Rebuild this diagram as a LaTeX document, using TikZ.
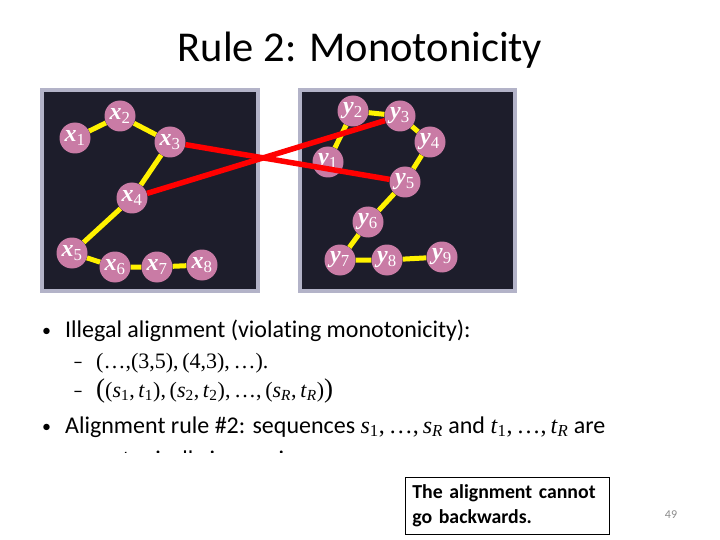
\documentclass[tikz,border=0pt]{standalone}
\usepackage{fontspec}
\setmainfont{Carlito}[Ligatures=NoCommon]
\newfontfamily\mserif{Liberation Serif}
\usetikzlibrary{backgrounds}
\definecolor{paneldark}{HTML}{1D1D2B}
\definecolor{panelborder}{HTML}{B3B3C8}
\definecolor{nodepink}{HTML}{C97BA5}
\definecolor{pagegrey}{HTML}{8C8C8C}
\newcommand\vlab[2]{{\bfseries\itshape #1}\textsubscript{#2}}
\newcommand\mv[2]{\textit{#1}\textsubscript{#2}}
\newcommand\mvR[1]{\textit{#1}\textsubscript{\itshape R}}
\tikzset{
  panel/.style={draw=panelborder, line width=4pt, fill=paneldark},
  vnode/.style={circle, fill=nodepink, minimum size=31pt, inner sep=0pt, text=white, font=\mserif\fontsize{24}{24}\selectfont},
  yedge/.style={draw=yellow, line width=5pt},
  redge/.style={draw=red, line width=5.5pt},
  bodytext/.style={anchor=base west, inner sep=0pt, font=\fontsize{24}{29}\selectfont},
  mathtext/.style={anchor=base west, inner sep=0pt, font=\mserif\fontsize{22}{29}\selectfont},
}
\begin{document}
\begin{tikzpicture}[x=1pt,y=-1pt]
\useasboundingbox (0,0) rectangle (720,540);
% title
\node[anchor=base, inner sep=0pt, font=\fontsize{42.5}{50}\selectfont] (title) at (360,62) {Rule 2: Monotonicity};
% nodes left
\node[vnode] (x1) at (75,138) {\vlab{x}{1}};
\node[vnode] (x2) at (120,116) {\vlab{x}{2}};
\node[vnode] (x3) at (170,142) {\vlab{x}{3}};
\node[vnode] (x4) at (132,198) {\vlab{x}{4}};
\node[vnode] (x5) at (72,253) {\vlab{x}{5}};
\node[vnode] (x6) at (115,267) {\vlab{x}{6}};
\node[vnode] (x7) at (157,267) {\vlab{x}{7}};
\node[vnode] (x8) at (202,265) {\vlab{x}{8}};
% nodes right
\node[vnode] (y1) at (328,162) {\vlab{y}{1}};
\node[vnode] (y2) at (353,111) {\vlab{y}{2}};
\node[vnode] (y3) at (400,116) {\vlab{y}{3}};
\node[vnode] (y4) at (430,142) {\vlab{y}{4}};
\node[vnode] (y5) at (405,182) {\vlab{y}{5}};
\node[vnode] (y6) at (368,222) {\vlab{y}{6}};
\node[vnode] (y7) at (340,260) {\vlab{y}{7}};
\node[vnode] (y8) at (387,260) {\vlab{y}{8}};
\node[vnode] (y9) at (442,257) {\vlab{y}{9}};
\begin{scope}[on background layer]
% panels
\draw[panel] (42,90) rectangle (258,291);
\draw[panel] (300,90) rectangle (515,291);
% yellow edges
\draw[yedge] (x1) -- (x2) (x2) -- (x3) (x3) -- (x4) (x4) -- (x5) (x5) -- (x6) (x6) -- (x7) (x7) -- (x8);
\draw[yedge] (y1) -- (y2) (y2) -- (y3) (y3) -- (y4) (y4) -- (y5) (y5) -- (y6) (y6) -- (y7) (y7) -- (y8) (y8) -- (y9);
\end{scope}
% red lines
\draw[redge] (x3) -- (y5);
\draw[redge] (x4) -- (y3);
% bullets
\node[bodytext, font=\fontsize{18}{20}\selectfont] (b1) at (42,336) {•};
\node[bodytext] (t1) at (65,337) {Illegal alignment (violating monotonicity):};
\node[bodytext, font=\fontsize{20}{20}\selectfont] (d1) at (73,368) {–};
\node[mathtext] (t2) at (96,368) {(…,(3,5),\,(4,3),\,…).};
\node[bodytext, font=\fontsize{20}{20}\selectfont] (d2) at (73,397) {–};
\node[mathtext] (t3) at (96,397) {{\fontsize{27}{27}\selectfont(}(\mv{s}{1},\,\mv{t}{1}),\,(\mv{s}{2},\,\mv{t}{2}),\,…,\,(\mvR{s},\,\mvR{t}){\fontsize{27}{27}\selectfont)}};
\node[bodytext, font=\fontsize{18}{20}\selectfont] (b2) at (42,432) {•};
\node[bodytext] (t4) at (65,433) {Alignment rule \#2: sequences {\mserif\mv{s}{1},\,…,\,\mvR{s}} and {\mserif\mv{t}{1},\,…,\,\mvR{t}} are};
\begin{scope}
\clip (0,440) rectangle (720,452);
\node[bodytext] (t5) at (65,467) {monotonically increasing.};
\end{scope}
% callout box
\node[draw=black, line width=0.8pt, anchor=north west, text width=190pt, minimum height=57pt, inner xsep=7pt, inner ysep=4pt, align=left, font=\fontsize{19.8}{25}\selectfont\bfseries] (box) at (405,477) {The alignment cannot\\go backwards.};
\node[anchor=base, inner sep=0pt, text=pagegrey, font=\fontsize{12}{12}\selectfont] (page) at (671,518) {49};
\end{tikzpicture}
\end{document}
